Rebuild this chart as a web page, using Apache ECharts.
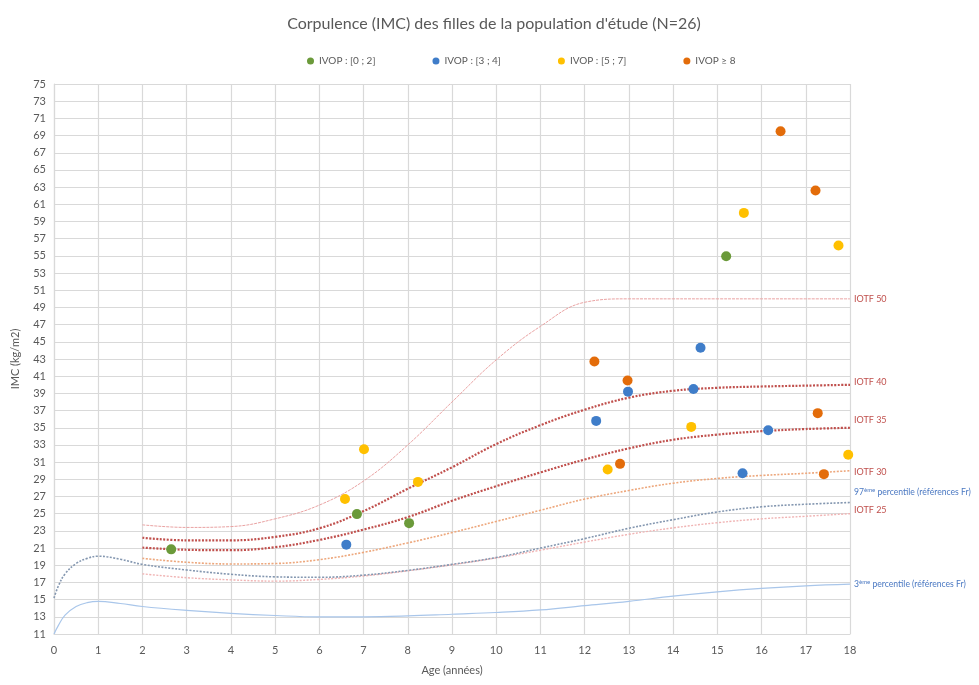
<!DOCTYPE html>
<html>
<head>
<meta charset="utf-8">
<script src="https://cdn.jsdelivr.net/npm/echarts@6/dist/echarts.min.js"></script>
<style>
  html, body { margin: 0; padding: 0; background: #fff; }
  #imc_chart { width: 979px; height: 685px; }
</style>
</head>
<body>
<div id="imc_chart"></div>
<script>
// groupes IVOP (légende)
const groupNames = ['IVOP : [0 ; 2]', 'IVOP : [3 ; 4]', 'IVOP : [5 ; 7]', 'IVOP ≥ 8']
const groupColors = ['#6b9a3a', '#3f7dc9', '#ffc000', '#e36c0a']

// filles : age (années) / IMC
const greenAge = [2.65, 6.85, 8.03, 15.2]
const greenImc = [20.85, 24.95, 23.9, 54.95]
const blueAge = [6.61, 12.26, 12.98, 14.46, 14.62, 15.57, 16.15]
const blueImc = [21.4, 35.8, 39.2, 39.5, 44.3, 29.7, 34.7]
const yellowAge = [6.58, 7.01, 8.23, 12.52, 14.41, 15.6, 17.74, 17.96]
const yellowImc = [26.7, 32.5, 28.7, 30.15, 35.1, 60.0, 56.2, 31.85]
const orangeAge = [12.22, 12.8, 12.97, 16.43, 17.22, 17.27, 17.41]
const orangeImc = [42.7, 30.8, 40.5, 69.5, 62.6, 36.7, 29.6]

// courbes IOTF (2 à 18 ans)
const iotfAge = [2, 3, 4, 5, 6, 7, 8, 9, 10, 11, 12, 13, 14, 15, 16, 17, 18]
const iotf50 = [23.7, 23.4, 23.5, 24.4, 26.0, 28.8, 33.0, 38.0, 42.9, 46.8, 49.6, 50, 50, 50, 50, 50, 50]
const iotf40 = [22.2, 21.9, 21.9, 22.3, 23.3, 25.3, 27.9, 30.4, 33.1, 35.3, 37.1, 38.5, 39.3, 39.65, 39.8, 39.9, 40]
const iotf35 = [21.05, 20.8, 20.75, 21.1, 21.95, 23.15, 24.6, 26.5, 28.2, 29.8, 31.3, 32.6, 33.6, 34.2, 34.6, 34.85, 35]
const iotf30 = [19.8, 19.35, 19.15, 19.2, 19.65, 20.5, 21.6, 22.8, 24.1, 25.4, 26.7, 27.7, 28.55, 29.1, 29.45, 29.7, 30]
const iotf25 = [18.0, 17.55, 17.3, 17.15, 17.35, 17.75, 18.35, 19.05, 19.85, 20.75, 21.7, 22.6, 23.35, 23.95, 24.4, 24.7, 25]

// percentiles (références françaises, 0 à 18 ans)
const pctAge = [0, 0.1, 0.25, 0.5, 0.75, 1, 1.5, 2, 3, 4, 5, 6, 7, 8, 9, 10, 11, 12, 13, 14, 15, 16, 17, 18]
const p97 = [15.2, 16.6, 18.0, 19.2, 19.8, 20.05, 19.7, 19.1, 18.45, 17.95, 17.65, 17.6, 17.85, 18.4, 19.1, 19.9, 21.0, 22.1, 23.3, 24.3, 25.2, 25.8, 26.1, 26.3]
const p3 = [11.0, 12.0, 13.2, 14.2, 14.65, 14.8, 14.55, 14.2, 13.75, 13.4, 13.15, 13.0, 13.0, 13.1, 13.3, 13.5, 13.8, 14.3, 14.8, 15.4, 15.9, 16.3, 16.6, 16.8]

function pairs (xs, ys) {
  return xs.map((x, i) => [x, ys[i]])
}

function curve (name, xs, ys, color, width, dash, label, labelColor, offset) {
  return {
    name: name,
    type: 'line',
    data: pairs(xs, ys),
    smooth: 0.4,
    showSymbol: false,
    silent: true,
    z: 2,
    lineStyle: { color: color, width: width, type: dash },
    endLabel: {
      show: true,
      formatter: label,
      fontFamily: 'Lato',
      fontSize: 9,
      distance: 4,
      offset: offset,
      color: labelColor,
      rich: {
        s: { fontSize: 6, verticalAlign: 'top', color: labelColor, fontFamily: 'Lato', padding: [0, 0, 5, 0] },
        t: { fontSize: 8.6, color: labelColor, fontFamily: 'Lato' }
      }
    }
  }
}

const chart = echarts.init(document.getElementById('imc_chart'))

const iotfLabel = '#c0504d'
const pctLabel = '#4a78c2'
const scatterData = [pairs(greenAge, greenImc), pairs(blueAge, blueImc), pairs(yellowAge, yellowImc), pairs(orangeAge, orangeImc)]
let seriesData = []
seriesData.push(curve('IOTF 50', iotfAge, iotf50, '#eaa3a3', 1, [3, 1], 'IOTF 50', iotfLabel, [0, 0]))
seriesData.push(curve('IOTF 40', iotfAge, iotf40, '#c0504d', 2.2, [2, 1.5], 'IOTF 40', iotfLabel, [0, -3]))
seriesData.push(curve('IOTF 35', iotfAge, iotf35, '#c0504d', 2.2, [2, 1.5], 'IOTF 35', iotfLabel, [0, -8]))
seriesData.push(curve('IOTF 30', iotfAge, iotf30, '#eda77c', 1.6, [2, 1.5], 'IOTF 30', iotfLabel, [0, 1]))
seriesData.push(curve('IOTF 25', iotfAge, iotf25, '#f0b3b3', 1.4, [2, 1.5], 'IOTF 25', iotfLabel, [0, -4]))
seriesData.push(curve('P97', pctAge, p97, '#8497b0', 1.6, [2, 1.5], '{t|97}{s|ème}{t| percentile (références Fr)}', pctLabel, [0, -10]))
seriesData.push(curve('P3', pctAge, p3, '#a9c6ea', 1.2, 'solid', '{t|3}{s|ème}{t| percentile (références Fr)}', pctLabel, [0, 0]))

groupNames.forEach((name, i) => {
  seriesData.push({
    name: name,
    type: 'scatter',
    data: scatterData[i],
    symbolSize: 10,
    z: 5,
    itemStyle: { color: groupColors[i], opacity: 1 }
  })
})

const option = {
  backgroundColor: '#ffffff',
  animation: false,
  textStyle: { fontFamily: 'Lato' },
  title: {
    text: 'Corpulence (IMC) des filles de la population d\'étude (N=26)',
    left: 489,
    textAlign: 'center',
    top: 11,
    textStyle: { fontSize: 16, fontWeight: 'normal', color: '#595959', fontFamily: 'Lato' }
  },
  legend: {
    data: groupNames,
    left: 302,
    top: 51,
    icon: 'circle',
    itemWidth: 7,
    itemHeight: 7,
    itemGap: 57,
    textStyle: { fontSize: 10, color: '#595959', fontFamily: 'Lato' }
  },
  grid: {
    left: 54,
    right: 129,
    top: 84,
    bottom: 51,
    containLabel: false
  },
  xAxis: {
    type: 'value',
    min: 0,
    max: 18,
    interval: 1,
    name: 'Age (années)',
    nameLocation: 'middle',
    nameGap: 31,
    nameTextStyle: { fontSize: 11, color: '#595959', fontFamily: 'Lato' },
    axisLine: { lineStyle: { color: '#d9d9d9', width: 1.2 } },
    axisTick: { show: false },
    axisLabel: { fontSize: 11, color: '#595959', margin: 11 },
    splitLine: { lineStyle: { color: '#d9d9d9', width: 1.2 } }
  },
  yAxis: {
    type: 'value',
    min: 11,
    max: 75,
    interval: 2,
    name: 'IMC (kg/m2)',
    nameLocation: 'middle',
    nameGap: 33,
    nameTextStyle: { fontSize: 11, color: '#595959', fontFamily: 'Lato' },
    axisLine: { show: true, lineStyle: { color: '#d9d9d9', width: 1.2 } },
    axisTick: { show: false },
    axisLabel: { fontSize: 11, color: '#595959', margin: 8 },
    splitLine: { lineStyle: { color: '#d9d9d9', width: 1.2 } }
  },
  series: seriesData
}

chart.setOption(option, true)
</script>
</body>
</html>
